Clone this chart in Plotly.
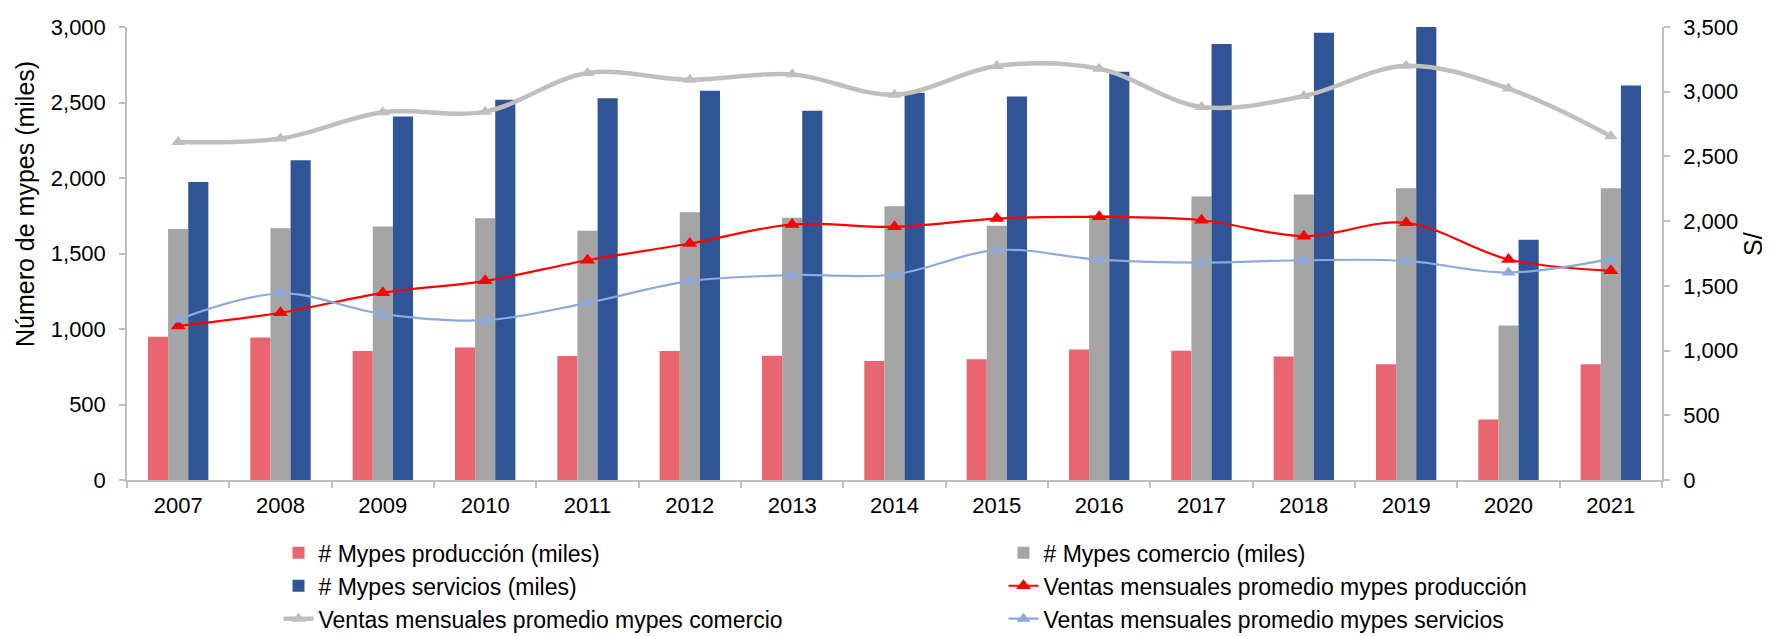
import plotly.graph_objects as go

YEARS = [str(y) for y in range(2007, 2022)]

# número de mypes (miles) - eje izquierdo
MYPES_PRODUCCION = [949, 944, 854, 878, 821, 854, 823, 788, 799, 865, 856, 818, 766, 401, 766]
MYPES_COMERCIO = [1663, 1668, 1679, 1734, 1650, 1774, 1736, 1813, 1683, 1755, 1877, 1891, 1932, 1024, 1932]
MYPES_SERVICIOS = [1974, 2118, 2407, 2519, 2528, 2577, 2446, 2565, 2539, 2704, 2887, 2962, 3010, 1591, 2612]

# ventas mensuales promedio (S/) - eje derecho
VENTAS_PRODUCCION = [1190, 1292, 1446, 1539, 1698, 1827, 1974, 1956, 2020, 2033, 2007, 1884, 1987, 1704, 1616]
VENTAS_COMERCIO = [2612, 2638, 2841, 2846, 3145, 3093, 3134, 2977, 3199, 3178, 2882, 2967, 3201, 3024, 2656]
VENTAS_SERVICIOS = [1240, 1441, 1282, 1235, 1369, 1536, 1583, 1588, 1776, 1703, 1680, 1698, 1693, 1603, 1709]

COLORS = {
    "prod_bar": "#E96570",
    "com_bar": "#A5A5A5",
    "serv_bar": "#2F5597",
    "prod_line": "#FF0000",
    "com_line": "#BFBFBF",
    "serv_line": "#8EA9DB",
    "axis": "#BFBFBF",
    "ink": "#000000",
}
FONT = "Liberation Sans, Arial, sans-serif"

fig = go.Figure()

for name, vals, col in [
    ("# Mypes producción (miles)", MYPES_PRODUCCION, COLORS["prod_bar"]),
    ("# Mypes comercio (miles)", MYPES_COMERCIO, COLORS["com_bar"]),
    ("# Mypes servicios (miles)", MYPES_SERVICIOS, COLORS["serv_bar"]),
]:
    fig.add_trace(go.Bar(
        x=YEARS, y=vals, name=name,
        marker=dict(color=col, line=dict(width=0)),
    ))

for name, vals, col, lw, ms in [
    ("Ventas mensuales promedio mypes producción", VENTAS_PRODUCCION, COLORS["prod_line"], 2.2, 13),
    ("Ventas mensuales promedio mypes comercio", VENTAS_COMERCIO, COLORS["com_line"], 4.5, 12),
    ("Ventas mensuales promedio mypes servicios", VENTAS_SERVICIOS, COLORS["serv_line"], 2.2, 12),
]:
    fig.add_trace(go.Scatter(
        x=YEARS, y=vals, name=name, yaxis="y2",
        mode="lines+markers",
        line=dict(color=col, width=lw, shape="spline", smoothing=1),
        marker=dict(symbol="triangle-up", size=ms, color=col),
    ))

axis_common = dict(
    showline=True, linecolor=COLORS["axis"], linewidth=1.5,
    ticks="outside", ticklen=6, tickcolor=COLORS["axis"], tickwidth=1.5,
    showgrid=False, zeroline=False,
    tickfont=dict(family=FONT, size=22, color=COLORS["ink"]),
)

# la página deja 8px de margen en el body: el gráfico se reduce en 8px
fig.update_layout(
    width=1762, height=628,
    margin=dict(l=119, r=108, t=19, b=156, autoexpand=False),
    plot_bgcolor="white", paper_bgcolor="white",
    barmode="group", bargap=0.41, bargroupgap=0,
    font=dict(family=FONT, size=22, color=COLORS["ink"]),
    xaxis=dict(type="category", tickson="boundaries", range=[-0.5, 14.5],
               ticklabelstandoff=5, **axis_common),
    yaxis=dict(range=[0, 3000], dtick=500, tickformat=",",
               ticklabelstandoff=9, **axis_common),
    yaxis2=dict(range=[0, 3500], dtick=500, tickformat=",",
                overlaying="y", side="right", ticklabelstandoff=9, **axis_common),
    legend=dict(
        orientation="h", x=0.0987, xanchor="left", y=-0.1135, yanchor="top",
        entrywidth=680, entrywidthmode="pixels",
        font=dict(family=FONT, size=23, color=COLORS["ink"]),
        traceorder="normal",
    ),
    showlegend=True,
)

# títulos de ejes como anotaciones para ubicarlos como en el original
fig.add_annotation(
    text="Número de mypes (miles)", textangle=-90,
    xref="paper", yref="paper", x=-0.0665, y=0.609,
    xanchor="center", yanchor="middle", showarrow=False,
    font=dict(family=FONT, size=25, color=COLORS["ink"]),
)
fig.add_annotation(
    text="S/", textangle=-90,
    xref="paper", yref="paper", x=1.0593, y=0.521,
    xanchor="center", yanchor="middle", showarrow=False,
    font=dict(family=FONT, size=25, color=COLORS["ink"]),
)

fig.write_html("out.html")
